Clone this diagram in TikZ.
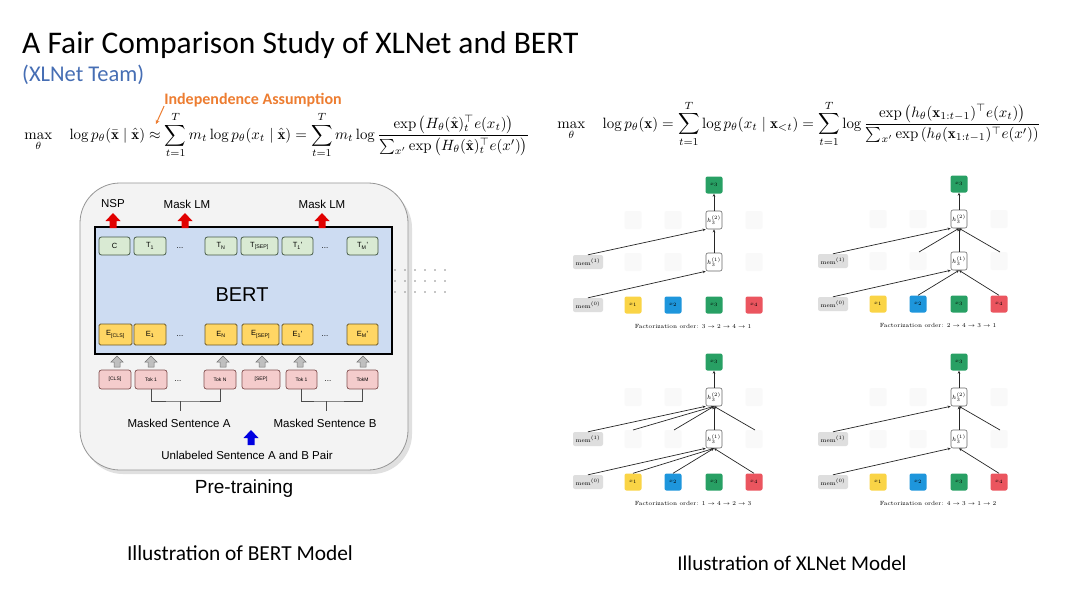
\documentclass[tikz,border=0pt]{standalone}
\usepackage{fontspec}
\usepackage{amsmath,amssymb}
\usepackage{graphicx}
\usetikzlibrary{arrows.meta}
\newfontfamily\calib{Carlito}
\newfontfamily\arial{Liberation Sans}
\definecolor{subblue}{RGB}{70,110,180}
\definecolor{indorange}{RGB}{237,125,49}
\definecolor{panelgray}{RGB}{243,243,243}
\definecolor{panelborder}{RGB}{150,150,150}
\definecolor{bertblue}{RGB}{205,220,242}
\definecolor{tgreen}{RGB}{217,234,211}
\definecolor{tborder}{RGB}{70,90,70}
\definecolor{eyellow}{RGB}{255,214,100}
\definecolor{eborder}{RGB}{110,90,40}
\definecolor{tokpink}{RGB}{244,204,204}
\definecolor{tokborder}{RGB}{130,80,80}
\definecolor{arrred}{RGB}{225,0,0}
\definecolor{arrblue}{RGB}{0,0,225}
\definecolor{xgreen}{RGB}{40,160,100}
\definecolor{xyellow}{RGB}{250,212,70}
\definecolor{xblue}{RGB}{30,150,220}
\definecolor{xred}{RGB}{235,85,95}
\definecolor{memgray}{RGB}{222,222,222}
\newcommand\xlpanel[4]{%
\begin{scope}[shift={(#2,#3)}]
 \node[xtok,fill=xgreen] (#1top) at (126,0) {$x_3$};
 \node[faint] (#1f21) at (45,35) {};
 \node[faint] (#1f22) at (85,35) {};
 \node[faint] (#1f24) at (166,35) {};
 \node[faint] (#1f11) at (45,77) {};
 \node[faint] (#1f12) at (85,77) {};
 \node[faint] (#1f14) at (166,77) {};
 \node[hbox] (#1h2) at (126,35) {$h_3^{(2)}$};
 \node[hbox] (#1h1) at (126,77) {$h_3^{(1)}$};
 \node[membox] (#1m1) at (0,77) {mem$^{(1)}$};
 \node[membox] (#1m0) at (0,120) {mem$^{(0)}$};
 \node[xtok,fill=xyellow] (#1x1) at (45,120) {$x_1$};
 \node[xtok,fill=xblue] (#1x2) at (85,120) {$x_2$};
 \node[xtok,fill=xgreen] (#1x3) at (126,120) {$x_3$};
 \node[xtok,fill=xred] (#1x4) at (166,120) {$x_4$};
 \coordinate (#1s1) at (45,68);
 \coordinate (#1s2) at (86,68);
 \coordinate (#1s4) at (167,68);
 \node[capt] (#1cap) at (105,141) {Factorization order: #4};
 \draw[xl] (#1h2) -- (#1top);
 \draw[xl] (#1h1) -- (#1h2);
 \draw[xl] (#1m1.north) -- (#1h2.south west);
 \draw[xl] (#1m0.north) -- (#1h1.south west);
\end{scope}}
\tikzset{
 tbox/.style={draw=tborder,fill=tgreen,rounded corners=2.5,minimum height=18,inner sep=0,line width=0.8,font=\arial\fontsize{7.5}{8}\selectfont},
 ebox/.style={draw=eborder,fill=eyellow,rounded corners=1.5,minimum height=21,inner sep=0,line width=0.8,font=\arial\fontsize{7.5}{8}\selectfont},
 tokbox/.style={draw=tokborder,fill=tokpink,rounded corners=2.5,minimum height=19,inner sep=0,line width=0.7,font=\arial\fontsize{5}{6}\selectfont},
 lbl/.style={inner sep=0,font=\arial\fontsize{11.5}{13}\selectfont},
 dotsl/.style={inner sep=0,font=\arial\fontsize{8}{9}\selectfont},
 blockup/.pic={\path[pic actions] (-3.5,0) -- (-3.5,-7) -- (-7.5,-7) -- (0,-15) -- (7.5,-7) -- (3.5,-7) -- (3.5,0) -- cycle;},
 smallup/.pic={\path[pic actions] (-3,0) -- (-3,-5) -- (-6,-5) -- (0,-11) -- (6,-5) -- (3,-5) -- (3,0) -- cycle;},
 xtok/.style={rounded corners=2,minimum width=17,minimum height=17,inner sep=0,font=\fontsize{5}{6}\selectfont},
 hbox/.style={draw=black!60,fill=white,rounded corners=2,minimum width=16,minimum height=18,inner sep=0,line width=0.6,font=\fontsize{6}{7}\selectfont},
 faint/.style={fill=black!2.5,rounded corners=2,minimum width=17,minimum height=18,inner sep=0},
 membox/.style={fill=memgray,rounded corners=2,minimum width=30,minimum height=14,inner sep=0,font=\fontsize{6}{7}\selectfont},
 capt/.style={inner sep=0,font=\fontsize{6}{7}\selectfont},
 xl/.style={-{Stealth[length=3pt,width=2.6pt]},line width=0.7,black!85},
}
\begin{document}
\begin{tikzpicture}[x=1pt,y=-1pt]
\useasboundingbox (0,0) rectangle (1080,589);
\fill[white] (0,0) rectangle (1080,589);
% title
\node[anchor=base west,inner sep=0] (title) at (22,53) {\calib\fontsize{31.5}{36}\selectfont A Fair Comparison Study of XLNet and BERT};
\node[anchor=base west,inner sep=0,text=subblue] (team) at (22,81) {\calib\fontsize{22.5}{26}\selectfont (XLNet Team)};
\node[inner sep=0,text=indorange] (indep) at (253,100) {\calib\bfseries\fontsize{16}{18}\selectfont Independence Assumption};
\coordinate (iaend) at (156,124);
\draw[indorange,line width=1,-{Stealth[length=4pt,width=4pt]}] ([xshift=0pt,yshift=1pt]indep.south west) -- (iaend);
% formulas
\node[inner sep=0] (fl) at (277,135) {\resizebox{505pt}{!}{$\displaystyle \max_\theta \quad \log p_\theta(\bar{\mathbf{x}} \mid \hat{\mathbf{x}}) \approx \sum_{t=1}^{T} m_t \log p_\theta(x_t \mid \hat{\mathbf{x}}) = \sum_{t=1}^{T} m_t \log \frac{\exp\left(H_\theta(\hat{\mathbf{x}})_t^{\top} e(x_t)\right)}{\sum_{x'} \exp\left(H_\theta(\hat{\mathbf{x}})_t^{\top} e(x')\right)}$}};
\node[inner sep=0] (fr) at (799,124) {\resizebox{483pt}{!}{$\displaystyle \max_\theta \quad \log p_\theta(\mathbf{x}) = \sum_{t=1}^{T} \log p_\theta(x_t \mid \mathbf{x}_{<t}) = \sum_{t=1}^{T} \log \frac{\exp\left(h_\theta(\mathbf{x}_{1:t-1})^{\top} e(x_t)\right)}{\sum_{x'} \exp\left(h_\theta(\mathbf{x}_{1:t-1})^{\top} e(x')\right)}$}};
% BERT panel
\fill[black!12,rounded corners=40] (83,188) rectangle (412,474);
\node[draw=panelborder,fill=panelgray,rounded corners=40,minimum width=328,minimum height=287,line width=0.8] (panel) at (244,326.5) {};
\node[draw=black,line width=1.6,fill=bertblue,minimum width=297,minimum height=127] (bertbox) at (243.5,290.5) {};
\node[inner sep=0] (berttxt) at (242,295) {\arial\fontsize{20}{22}\selectfont BERT};
% T row
\node[tbox,minimum width=31] (tc) at (114.5,246) {C};
\node[tbox,minimum width=32] (t1) at (150,246) {T\textsubscript{1}};
\node[dotsl] (tdA) at (180,248) {...};
\node[tbox,minimum width=32] (tn) at (221,246) {T\textsubscript{N}};
\node[tbox,minimum width=37] (tsep) at (259.5,246) {T\textsubscript{[SEP]}};
\node[tbox,minimum width=31] (t1b) at (297.5,246) {T\textsubscript{1}'};
\node[dotsl] (tdB) at (325,248) {...};
\node[tbox,minimum width=31] (tm) at (362.5,246) {T\textsubscript{M}'};
% E row
\node[ebox,minimum width=33] (ecls) at (115.5,334.5) {E\textsubscript{[CLS]}};
\node[ebox,minimum width=32] (e1) at (150,334.5) {E\textsubscript{1}};
\node[dotsl] (edA) at (180,336) {...};
\node[ebox,minimum width=32] (en) at (221,334.5) {E\textsubscript{N}};
\node[ebox,minimum width=37] (esep) at (260.5,334.5) {E\textsubscript{[SEP]}};
\node[ebox,minimum width=31] (e1b) at (297.5,334.5) {E\textsubscript{1}'};
\node[dotsl] (edB) at (325,336) {...};
\node[ebox,minimum width=31] (em) at (362.5,334.5) {E\textsubscript{M}'};
% red output arrows
\pic[fill=arrred] (ra1) at (113,228) {blockup};
\pic[fill=arrred] (ra2) at (185,228) {blockup};
\pic[fill=arrred] (ra3) at (322,228) {blockup};
\node[lbl] (nsp) at (113,204) {NSP};
\node[lbl] (mlm1) at (187,204) {Mask LM};
\node[lbl] (mlm2) at (322,204) {Mask LM};
% input arrows
\foreach \i/\xx in {1/117,2/151,3/223,4/262,5/300,6/363}{
 \pic[fill=black!25,draw=black!55,line width=0.5] (ia\i) at (\xx,367) {smallup};
}
% tokens
\node[tokbox,minimum width=32] (kcls) at (115,379.5) {[CLS]};
\node[tokbox,minimum width=32] (k1) at (151,379.5) {Tok 1};
\node[dotsl] (kdA) at (178,381) {...};
\node[tokbox,minimum width=32] (kn) at (220,379.5) {Tok N};
\node[tokbox,minimum width=38] (ksep) at (261,379.5) {[SEP]};
\node[tokbox,minimum width=31] (k1b) at (301.5,379.5) {Tok 1};
\node[dotsl] (kdB) at (328,381) {...};
\node[tokbox,minimum width=31] (km) at (362.5,379.5) {TokM};
% brackets
\coordinate (brA) at (180,401);
\coordinate (brB) at (326,401);
\draw[black!70,line width=0.8] (k1.south) |- (brA) -| (kn.south);
\draw[black!70,line width=0.8] (brA) -- ++(0,10);
\draw[black!70,line width=0.8] (k1b.south) |- (brB) -| (km.south);
\draw[black!70,line width=0.8] (brB) -- ++(0,10);
\node[lbl] (msa) at (179,423) {Masked Sentence A};
\node[lbl] (msb) at (325,423) {Masked Sentence B};
\pic[fill=arrblue] (ba) at (251,445) {blockup};
\node[lbl] (unl) at (247,455) {Unlabeled Sentence A and B Pair};
\node[inner sep=0] (pre) at (244,489) {\arial\fontsize{19}{22}\selectfont Pre-training};
% dot remnants
\foreach \yy in {270,281,292}{\foreach \xx in {395,405,...,445}{\fill[black!45] (\xx,\yy) circle (0.9);}}
% captions
\node[inner sep=0] (capB) at (240,553) {\calib\fontsize{21.4}{24}\selectfont Illustration of BERT Model};
\node[inner sep=0] (capX) at (792,563) {\calib\fontsize{21}{24}\selectfont Illustration of XLNet Model};
% XLNet panels
\xlpanel{a}{588}{185}{$3\rightarrow 2\rightarrow 4\rightarrow 1$}
\xlpanel{b}{833}{184}{$2\rightarrow 4\rightarrow 3\rightarrow 1$}
\xlpanel{c}{588}{362}{$1\rightarrow 4\rightarrow 2\rightarrow 3$}
\xlpanel{d}{833}{362}{$4\rightarrow 3\rightarrow 1\rightarrow 2$}
% extra connections
\draw[xl] (bs2) -- (bh2.south);
\draw[xl] (bs4) -- (bh2.south);
\draw[xl] (bx2.north) -- (bh1.south);
\draw[xl] (bx4.north) -- (bh1.south);
\draw[xl] (cs1) -- (ch2.south);
\draw[xl] (cs2) -- (ch2.south);
\draw[xl] (cs4) -- (ch2.south);
\draw[xl] (cx1.north) -- (ch1.south);
\draw[xl] (cx2.north) -- (ch1.south);
\draw[xl] (cx4.north) -- (ch1.south);
\draw[xl] (ds4) -- (dh2.south);
\draw[xl] (dx4.north) -- (dh1.south);
\end{tikzpicture}
\end{document}
